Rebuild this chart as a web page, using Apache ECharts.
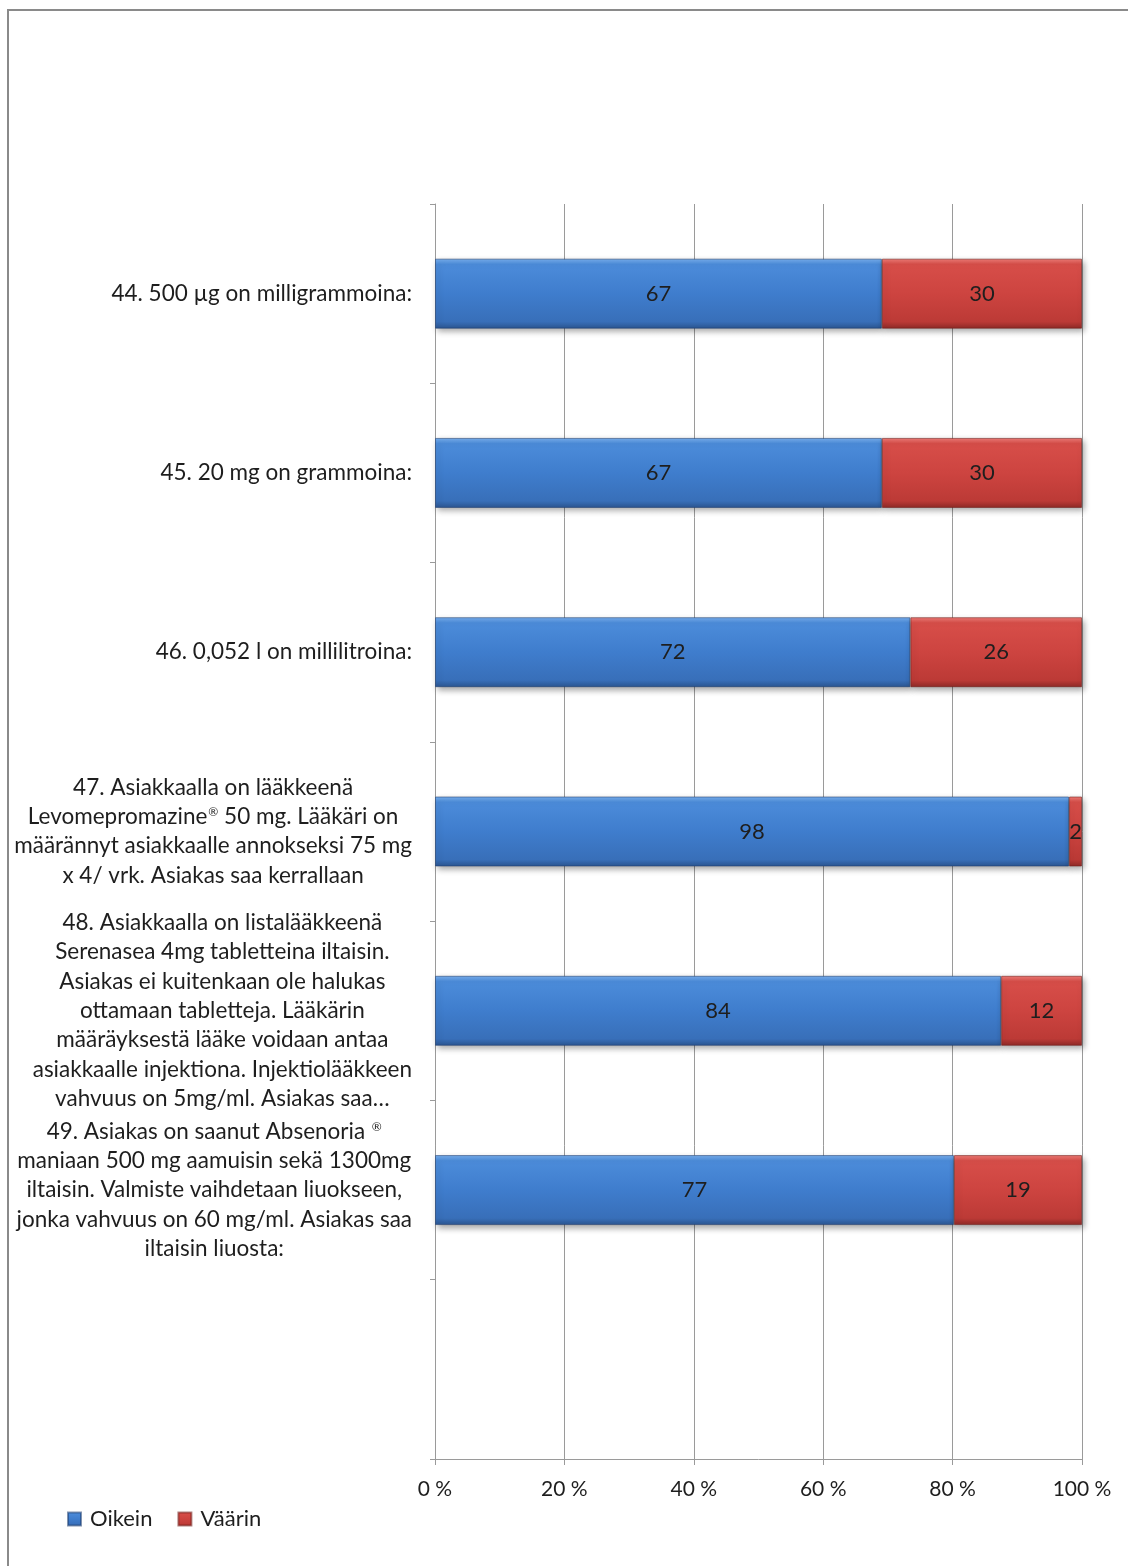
<!DOCTYPE html>
<html>
<head>
<meta charset="utf-8">
<script src="https://cdn.jsdelivr.net/npm/echarts@6/dist/echarts.min.js"></script>
<style>
  html, body { margin: 0; padding: 0; background: #fff; }
  #chart { width: 1128px; height: 1566px; }
</style>
</head>
<body>
<div id="chart"></div>
<script>
// Question labels (top to bottom); the last band is left empty
const categories = [
  '44. 500 µg on milligrammoina:',
  '45. 20 mg on grammoina:',
  '46. 0,052 l on millilitroina:',
  '47. Asiakkaalla on lääkkeenä\nLevomepromazine® 50 mg. Lääkäri on\nmäärännyt asiakkaalle annokseksi 75 mg\nx 4/ vrk. Asiakas saa kerrallaan',
  '48. Asiakkaalla on listalääkkeenä\nSerenasea 4mg tabletteina iltaisin.\nAsiakas ei kuitenkaan ole halukas\nottamaan tabletteja. Lääkärin\nmääräyksestä lääke voidaan antaa\nasiakkaalle injektiona. Injektiolääkkeen\nvahvuus on 5mg/ml. Asiakas saa…',
  '49. Asiakas on saanut Absenoria ®\nmaniaan 500 mg aamuisin sekä 1300mg\niltaisin. Valmiste vaihdetaan liuokseen,\njonka vahvuus on 60 mg/ml. Asiakas saa\niltaisin liuosta:',
  ''
];

// Answer counts per question
const oikein = [67, 67, 72, 98, 84, 77, null];
const vaarin = [30, 30, 26, 2, 12, 19, null];

// Percent axis ticks
const percentTicks = [0, 20, 40, 60, 80, 100];

const FONT = 'Lato, "Open Sans", sans-serif';
const TEXT = '#1e1e1e';

// Share of each answer within its question (100 % stacked)
function share(arr, i) {
  const a = oikein[i], b = vaarin[i];
  if (a == null || b == null) return null;
  return arr[i] / (a + b) * 100;
}
const oikeinPct = oikein.map((v, i) => share(oikein, i));
const vaarinPct = vaarin.map((v, i) => share(vaarin, i));

// Each label line becomes a centred rich-text line; ® is set as a superscript
function formatCategory(v) {
  if (v === '') return '';
  return v.split('\n').map(line =>
    line.split('®').map(part => part ? '{c|' + part + '}' : '').join('{s|®}')
  ).join('\n');
}

const blueFill = new echarts.graphic.LinearGradient(0, 0, 0, 1, [
  { offset: 0, color: '#79b0ee' },
  { offset: 0.08, color: '#4c8cda' },
  { offset: 0.5, color: '#3f7dcd' },
  { offset: 0.9, color: '#386fb9' },
  { offset: 1, color: '#2b5590' }
]);
const redFill = new echarts.graphic.LinearGradient(0, 0, 0, 1, [
  { offset: 0, color: '#ef7d78' },
  { offset: 0.08, color: '#d74e49' },
  { offset: 0.5, color: '#cd4440' },
  { offset: 0.9, color: '#bc3a36' },
  { offset: 1, color: '#8e2a27' }
]);

const barShadow = {
  shadowColor: 'rgba(0,0,0,0.35)',
  shadowBlur: 6,
  shadowOffsetX: 2,
  shadowOffsetY: 3
};

const chart = echarts.init(document.getElementById('chart'), null, { renderer: 'canvas' });

chart.setOption({
  animation: false,
  backgroundColor: '#ffffff',
  textStyle: { fontFamily: FONT },
  graphic: [{
    type: 'rect',
    z: -10,
    shape: { x: 8, y: 10, width: 1400, height: 1800 },
    style: { fill: 'none', stroke: '#8a8a8a', lineWidth: 2 }
  }],
  legend: {
    left: 62,
    top: 1503,
    itemWidth: 13,
    itemHeight: 13,
    itemGap: 25,
    icon: 'rect',
    textStyle: { fontFamily: FONT, fontSize: 22, color: TEXT, padding: [0, 0, 0, 4] },
    data: ['Oikein', 'Väärin']
  },
  grid: { left: 435, right: 46, top: 204, bottom: 107, containLabel: false },
  xAxis: {
    type: 'value',
    min: percentTicks[0],
    max: percentTicks[percentTicks.length - 1],
    interval: 20,
    axisLine: { show: true, lineStyle: { color: '#9a9a9a', width: 1 } },
    axisTick: { show: true, length: 6, lineStyle: { color: '#9a9a9a' } },
    splitLine: { show: true, lineStyle: { color: '#9a9a9a', width: 1 } },
    axisLabel: {
      margin: 20,
      fontFamily: FONT,
      fontSize: 21,
      color: TEXT,
      formatter: v => v + ' %'
    }
  },
  yAxis: {
    type: 'category',
    inverse: true,
    data: categories,
    axisLine: { show: true, lineStyle: { color: '#9a9a9a', width: 1 } },
    axisTick: { show: true, length: 5, lineStyle: { color: '#9a9a9a' } },
    splitLine: { show: false },
    axisLabel: {
      margin: 23,
      interval: 0,
      align: 'right',
      formatter: formatCategory,
      rich: {
        c: { align: 'center', fontFamily: FONT, fontSize: 22.5, lineHeight: 29.3, color: TEXT },
        s: { align: 'center', fontFamily: FONT, fontSize: 12, lineHeight: 29.3, verticalAlign: 'top', padding: [4, 0, 0, 1], color: TEXT }
      }
    }
  },
  series: [
    {
      name: 'Oikein',
      type: 'bar',
      stack: 'total',
      barWidth: 70,
      data: oikeinPct,
      itemStyle: Object.assign({ color: blueFill, borderColor: 'rgba(30,60,110,0.55)', borderWidth: 1 }, barShadow),
      label: {
        show: true,
        position: 'inside',
        fontFamily: FONT,
        fontSize: 22,
        color: TEXT,
        formatter: p => oikein[p.dataIndex]
      }
    },
    {
      name: 'Väärin',
      type: 'bar',
      stack: 'total',
      barWidth: 70,
      data: vaarinPct,
      itemStyle: Object.assign({ color: redFill, borderColor: 'rgba(110,25,22,0.55)', borderWidth: 1 }, barShadow),
      label: {
        show: true,
        position: 'inside',
        fontFamily: FONT,
        fontSize: 22,
        color: TEXT,
        formatter: p => vaarin[p.dataIndex]
      }
    }
  ]
});
</script>
</body>
</html>
